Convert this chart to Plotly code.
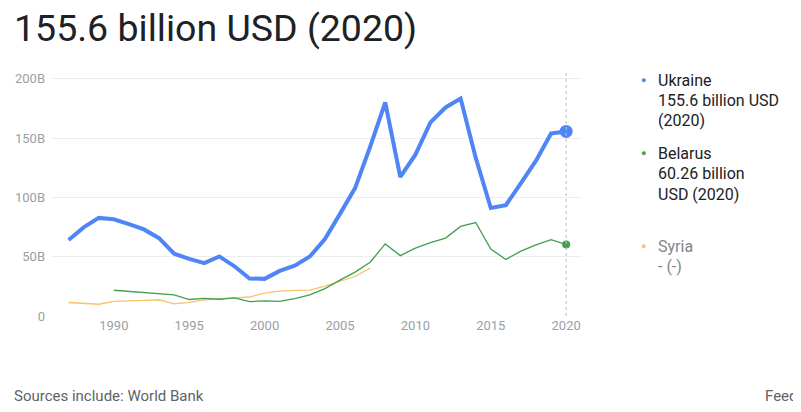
import plotly.graph_objects as go

# GDP (current USD, billions)
ukraine_years = list(range(1987, 2021))
ukraine_gdp = [64.1, 74.7, 82.7, 81.5, 77.5, 73.0, 65.6, 52.5, 48.2, 44.6,
               50.2, 41.9, 31.6, 31.3, 38.0, 42.4, 50.1, 64.9, 86.1, 107.8,
               142.7, 180.0, 117.2, 136.0, 163.2, 175.8, 183.3, 133.5, 91.0, 93.4,
               112.1, 130.9, 153.9, 155.6]

belarus_years = list(range(1990, 2021))
belarus_gdp = [21.7, 20.9, 20.0, 19.1, 17.9, 13.9, 14.8, 14.1, 15.2, 12.1,
               12.7, 12.4, 14.6, 17.8, 23.1, 30.2, 37.0, 45.3, 60.8, 50.9,
               57.2, 61.8, 65.7, 75.5, 78.8, 56.5, 47.7, 54.7, 60.0, 64.4,
               60.26]

syria_years = list(range(1987, 2008))
syria_gdp = [11.4, 10.6, 9.9, 12.3, 13.0, 13.2, 13.7, 10.2, 11.4, 13.6,
             14.5, 15.2, 16.0, 19.3, 21.0, 21.6, 21.8, 25.1, 28.9, 33.3,
             40.4]

y_ticks = [0, 50, 100, 150, 200]
y_tick_labels = ["0", "50B", "100B", "150B", "200B"]
x_ticks = [1990, 1995, 2000, 2005, 2010, 2015, 2020]

BLUE = "#4f85f4"
GREEN = "#3fa14f"
ORANGE = "#f7c36b"
GRAY = "#9aa0a6"

fig = go.Figure()

fig.add_trace(go.Scatter(x=syria_years, y=syria_gdp, mode="lines",
                         line=dict(color=ORANGE, width=1.3), name="Syria"))
fig.add_trace(go.Scatter(x=belarus_years, y=belarus_gdp, mode="lines",
                         line=dict(color=GREEN, width=1.3), name="Belarus"))
fig.add_trace(go.Scatter(x=ukraine_years, y=ukraine_gdp, mode="lines",
                         line=dict(color=BLUE, width=4), name="Ukraine"))

# end-point markers
fig.add_trace(go.Scatter(x=[belarus_years[-1]], y=[belarus_gdp[-1]], mode="markers",
                         marker=dict(color=GREEN, size=8, line=dict(width=0)),
                         hoverinfo="skip"))
fig.add_trace(go.Scatter(x=[ukraine_years[-1]], y=[ukraine_gdp[-1]], mode="markers",
                         marker=dict(color=BLUE, size=13, line=dict(width=0)),
                         hoverinfo="skip"))

# hover line at 2020
fig.add_shape(type="line", x0=2020, x1=2020, y0=0, y1=1, yref="paper",
              line=dict(color="#bdbdbd", width=1, dash="dot"))

# page puts the figure 8px in from the window corner
OFF = 8

# right-hand legend (screen pixel positions)
legend_items = [
    ("Ukraine", ["155.6 billion USD", "(2020)"], BLUE, "#202124", 80),
    ("Belarus", ["60.26 billion", "USD (2020)"], GREEN, "#202124", 153),
    ("Syria", ["- (-)"], ORANGE, "#80868b", 246),
]
for name, lines, col, txtcol, ytop in legend_items:
    fig.add_annotation(x=643, y=ytop, text="●",
                       showarrow=False, font=dict(size=9, color=col),
                       xanchor="center", yanchor="middle")
    for i, t in enumerate([name] + lines):
        fig.add_annotation(x=656, y=ytop + i * 20.5, text=t, showarrow=False,
                           font=dict(size=16, color=txtcol, family="Roboto"),
                           xanchor="left", yanchor="middle")

fig.add_annotation(x=12, y=396, text="Sources include: World Bank", showarrow=False,
                   font=dict(size=15, color="#5f6368", family="Roboto"),
                   xanchor="left", yanchor="middle")
fig.add_annotation(x=763, y=396, text="Feedback", showarrow=False,
                   font=dict(size=15, color="#5f6368", family="Roboto"),
                   xanchor="left", yanchor="middle")

# figure sized to fit the window after the page offset
W, H = 801 - OFF, 412 - OFF
L, R, T, B = 52 - OFF, 801 - 582, 72 - OFF, 412 - 316
for a in fig.layout.annotations:
    a.x = (a.x - OFF - L) / (W - L - R)
    a.y = 1 - (a.y - OFF - T) / (H - T - B)
    a.xref = "paper"
    a.yref = "paper"

fig.update_layout(
    width=W, height=H,
    margin=dict(l=L, r=R, t=T, b=B),
    paper_bgcolor="white", plot_bgcolor="white",
    showlegend=False,
    font=dict(family="Roboto", color=GRAY),
    title=dict(text="155.6 billion USD (2020)", x=(14 - OFF) / W, xanchor="left",
               y=1 - (28 - OFF) / H, yanchor="middle",
               font=dict(size=37.5, color="#202124", family="Roboto")),
    xaxis=dict(range=[1985.9, 2021.05], tickvals=x_ticks, showgrid=False,
               zeroline=False, showline=False, ticks="", automargin=False,
               tickfont=dict(size=13, color=GRAY)),
    yaxis=dict(range=[0, 205.7], tickvals=y_ticks, ticktext=y_tick_labels,
               gridcolor="#eeeeee", gridwidth=1, zeroline=False,
               showline=False, ticks="", ticklabelstandoff=6, automargin=False,
               tickfont=dict(size=13, color=GRAY)),
)

fig.write_html("out.html")
